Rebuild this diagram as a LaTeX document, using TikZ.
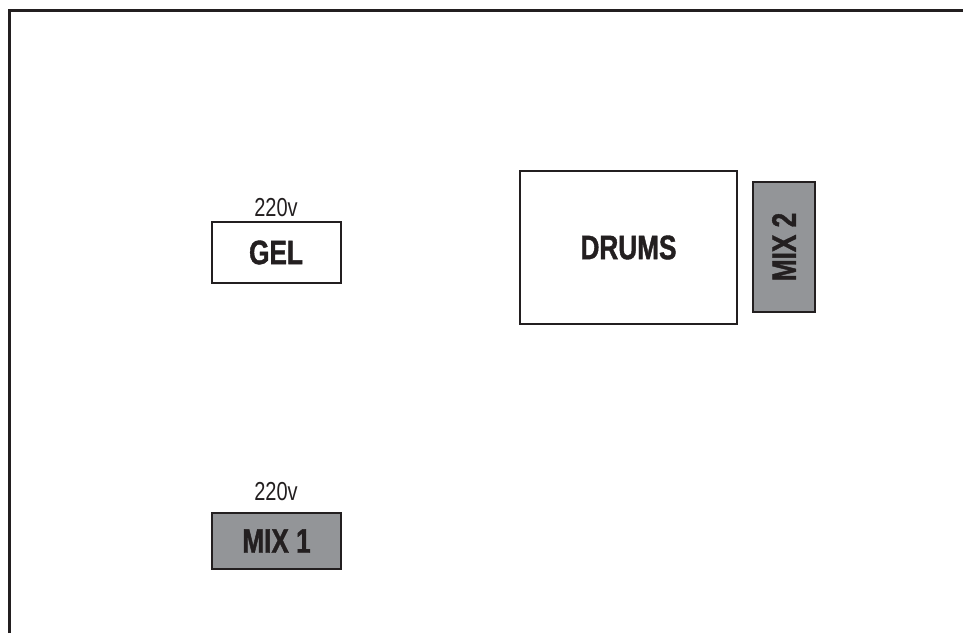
\documentclass[tikz,border=0pt]{standalone}
\usepackage{fontspec}
\setmainfont{Liberation Sans}[FakeStretch=0.77, BoldFeatures={FakeBold=1.2}]
\usepackage{xcolor}
\usepackage{tikz}
\usetikzlibrary{positioning}

\definecolor{ink}{HTML}{231F20}
\definecolor{mixgray}{HTML}{939598}

\tikzset{
    unit/.style={draw=ink, line width=2pt, text=ink, inner sep=0pt,
        font=\fontsize{34}{34}\selectfont\bfseries},
    mixer/.style={unit, fill=mixgray},
    volt/.style={text=ink, inner sep=0pt, font=\fontsize{26}{26}\selectfont}
}

\begin{document}
\begin{tikzpicture}[x=1pt, y=-1pt]
    \useasboundingbox (0,0) rectangle (963,633);
    % stage outline
    \draw[ink, line width=3pt] (9.5,633) -- (9.5,10.5) -- (963,10.5);
    % equipment
    \node[unit, minimum width=129pt, minimum height=61pt] (gel) at (276,252.5) {GEL};
    \node[volt] (voltgel) at (276,207.5) {220v};
    \node[mixer, minimum width=129pt, minimum height=56pt] (mixone) at (276.5,541) {MIX 1};
    \node[volt] (voltmix) at (276,492) {220v};
    \node[unit, minimum width=217pt, minimum height=153pt] (drums) at (628.5,247.5) {DRUMS};
    \node[mixer, minimum width=62pt, minimum height=130pt] (mixtwo) at (784,247) {};
    \node[text=ink, rotate=90, font=\fontsize{34}{34}\selectfont\bfseries] (mixtwolbl) at (mixtwo.center) {MIX 2};
\end{tikzpicture}
\end{document}
